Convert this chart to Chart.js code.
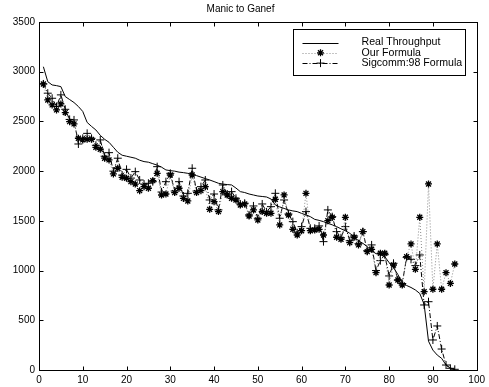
<!DOCTYPE html>
<html>
<head>
<meta charset="utf-8">
<script src="https://cdn.jsdelivr.net/npm/chart.js@4/dist/chart.umd.min.js"></script>
<style>
  html, body { margin: 0; padding: 0; background: #fff; }
  #wrap { width: 489px; height: 387px; }
</style>
</head>
<body>
<div id="wrap"><canvas id="myChart"></canvas></div>
<script>
const runs = [1,2,3,4,5,6,7,8,9,10,11,12,13,14,15,16,17,18,19,20,
  21,22,23,24,25,26,27,28,29,30,31,32,33,34,35,36,37,38,39,40,
  41,42,43,44,45,46,47,48,49,50,51,52,53,54,55,56,57,58,59,60,
  61,62,63,64,65,66,67,68,69,70,71,72,73,74,75,76,77,78,79,80,
  81,82,83,84,85,86,87,88,89,90,91,92,93,94,95];

const realThroughput = [3050,2900,2867,2860,2850,2750,2720,2690,2650,2600,
  2490,2450,2414,2360,2320,2290,2240,2190,2160,2150,
  2140,2130,2110,2096,2090,2075,2060,2040,2012,2005,
  2000,1990,1985,1978,1970,1955,1940,1925,1911,1895,
  1878,1870,1865,1861,1830,1794,1785,1770,1760,1750,
  1745,1740,1720,1660,1640,1625,1610,1600,1593,1575,
  1560,1542,1515,1505,1492,1475,1460,1442,1420,1400,
  1375,1340,1300,1274,1240,1200,1170,1160,1140,1080,
  1030,960,880,850,830,805,770,660,290,200,
  150,117,50,20,5];

const ourFormula = [2877,2716,2666,2616,2676,2589,2498,2475,2331,2314,
  2320,2320,2240,2220,2130,2113,1972,2029,1938,1928,
  1894,1870,1804,1844,1828,1904,1978,1760,1770,1961,
  1784,1828,1726,1700,1961,1784,1804,1844,1616,1693,
  1593,1794,1760,1727,1710,1660,1670,1549,1610,1509,
  1593,1576,1576,1717,1459,1761,1559,1415,1358,1401,
  1777,1401,1408,1415,1358,1502,1536,1335,1315,1536,
  1281,1335,1258,1392,1190,1214,979,1174,1174,855,
  1056,905,855,1140,1268,1013,1536,788,1871,812,
  1268,812,979,871,1066];

const sigcomm98 = [2877,2784,2733,2650,2767,2622,2520,2515,2273,2330,
  2380,2330,2260,2314,2150,2186,2000,2130,1960,2018,
  1930,1995,1911,1870,1878,1894,2045,1790,1894,1978,
  1800,1894,1750,1777,2029,1800,1844,1911,1710,1770,
  1610,1861,1770,1794,1727,1670,1677,1560,1650,1526,
  1670,1590,1643,1777,1526,1710,1569,1492,1380,1442,
  1593,1425,1425,1449,1291,1610,1542,1392,1330,1442,
  1300,1348,1270,1392,1200,1258,1000,1100,1160,946,
  1073,905,870,1133,1113,1050,1157,654,687,302,
  443,211,50,17,7];

const xTicks = [0,10,20,30,40,50,60,70,80,90,100];
const yTicks = [0,500,1000,1500,2000,2500,3000,3500];

const FONT = "'Liberation Sans', Arial, Helvetica, sans-serif";
const pts = (ys) => runs.map((x, i) => ({ x: x, y: ys[i] }));

// marker drawing shared by legend
function marker(ctx, style, x, y) {
  ctx.beginPath();
  if (style === "star") {
    const r = 3.5, d = r * 0.72;
    ctx.moveTo(x - r, y); ctx.lineTo(x + r, y);
    ctx.moveTo(x, y - r); ctx.lineTo(x, y + r);
    ctx.moveTo(x - d, y - d); ctx.lineTo(x + d, y + d);
    ctx.moveTo(x - d, y + d); ctx.lineTo(x + d, y - d);
  } else if (style === "cross") {
    const r = 4;
    ctx.moveTo(x - r, y); ctx.lineTo(x + r, y);
    ctx.moveTo(x, y - r); ctx.lineTo(x, y + r);
  }
  ctx.stroke();
}

// matlab style box with inward ticks
const frame = {
  id: "frame",
  afterDraw(chart) {
    const { ctx, chartArea: a, scales: { x, y } } = chart;
    ctx.save();
    ctx.strokeStyle = "#000";
    ctx.lineWidth = 1;
    ctx.setLineDash([]);
    const L = Math.round(a.left) + 0.5, R = Math.round(a.right) + 0.5;
    const T = Math.round(a.top) + 0.5, B = Math.round(a.bottom) + 0.5;
    ctx.strokeRect(L, T, R - L, B - T);
    ctx.beginPath();
    xTicks.forEach(v => {
      const px = Math.round(x.getPixelForValue(v)) + 0.5;
      ctx.moveTo(px, B); ctx.lineTo(px, B - 4);
      ctx.moveTo(px, T); ctx.lineTo(px, T + 4);
    });
    yTicks.forEach(v => {
      const py = Math.round(y.getPixelForValue(v)) + 0.5;
      ctx.moveTo(L, py); ctx.lineTo(L + 4, py);
      ctx.moveTo(R, py); ctx.lineTo(R - 4, py);
    });
    ctx.stroke();
    ctx.restore();
  }
};

const boxLegend = {
  id: "boxLegend",
  afterDraw(chart) {
    const { ctx, chartArea: a } = chart;
    const bx = Math.round(a.right) - 11.5, by = Math.round(a.top) + 7.5;
    const w = 172, h = 46;
    ctx.save();
    ctx.fillStyle = "#fff";
    ctx.fillRect(bx - w, by, w, h);
    ctx.strokeStyle = "#000";
    ctx.lineWidth = 1;
    ctx.strokeRect(bx - w, by, w, h);
    ctx.font = "10.6px " + FONT;
    ctx.textBaseline = "middle";
    ctx.textAlign = "left";
    chart.data.datasets.forEach((ds, i) => {
      const yy = by + 13 + i * 10.3;
      const x0 = bx - w + 9, x1 = bx - w + 45;
      ctx.strokeStyle = ds.borderColor;
      ctx.setLineDash(ds.borderDash || []);
      ctx.beginPath();
      ctx.moveTo(x0, Math.round(yy) + 0.5);
      ctx.lineTo(x1, Math.round(yy) + 0.5);
      ctx.stroke();
      ctx.setLineDash([]);
      if (ds.pointRadius > 0) {
        ctx.strokeStyle = ds.pointBorderColor;
        ctx.lineWidth = ds.pointBorderWidth;
        marker(ctx, ds.pointStyle, (x0 + x1) / 2, yy);
        ctx.lineWidth = 1;
      }
      ctx.fillStyle = "#000";
      ctx.fillText(ds.label, bx - w + 68, yy);
    });
    ctx.restore();
  }
};

const data = {
  datasets: [
    {
      label: "Real Throughput",
      data: pts(realThroughput),
      borderColor: "#000",
      borderWidth: 1,
      pointRadius: 0,
      tension: 0,
    },
    {
      label: "Our Formula",
      data: pts(ourFormula),
      borderColor: "#888",
      borderWidth: 1,
      borderDash: [1, 2],
      pointStyle: "star",
      pointRadius: 3.5,
      pointBorderColor: "#000",
      pointBorderWidth: 1.3,
      tension: 0,
    },
    {
      label: "Sigcomm:98 Formula",
      data: pts(sigcomm98),
      borderColor: "#000",
      borderWidth: 1,
      borderDash: [5, 2, 1, 2],
      pointStyle: "cross",
      pointRadius: 4,
      pointBorderColor: "#000",
      pointBorderWidth: 1,
      tension: 0,
    },
  ],
};

const config = {
  type: "line",
  data: data,
  options: {
    responsive: true,
    maintainAspectRatio: false,
    animation: false,
    events: [],
    layout: { padding: { left: 0, right: 8, top: 0, bottom: 0 } },
    scales: {
      x: {
        type: "linear",
        min: 0,
        max: 100,
        afterBuildTicks: (s) => { s.ticks = xTicks.map(v => ({ value: v })); },
        afterFit: (s) => { s.height = 17; },
        grid: { display: false, drawTicks: false },
        border: { display: false },
        ticks: { color: "#000", padding: 4, maxRotation: 0, font: { family: FONT, size: 10 } },
      },
      y: {
        min: 0,
        max: 3500,
        afterBuildTicks: (s) => { s.ticks = yTicks.map(v => ({ value: v })); },
        afterFit: (s) => { s.width = 39; },
        grid: { display: false, drawTicks: false },
        border: { display: false },
        ticks: {
          color: "#000",
          padding: 4,
          font: { family: FONT, size: 10 },
          callback: (v) => String(v),
        },
      },
    },
    plugins: {
      legend: { display: false },
      tooltip: { enabled: false },
      title: {
        display: true,
        text: "Manic to Ganef",
        color: "#000",
        font: { family: FONT, size: 10, weight: "normal" },
        padding: { top: 3, bottom: 7 },
      },
    },
  },
  plugins: [frame, boxLegend],
};

const myChart = new Chart(document.querySelector("#myChart").getContext("2d"), config);
</script>
</body>
</html>
